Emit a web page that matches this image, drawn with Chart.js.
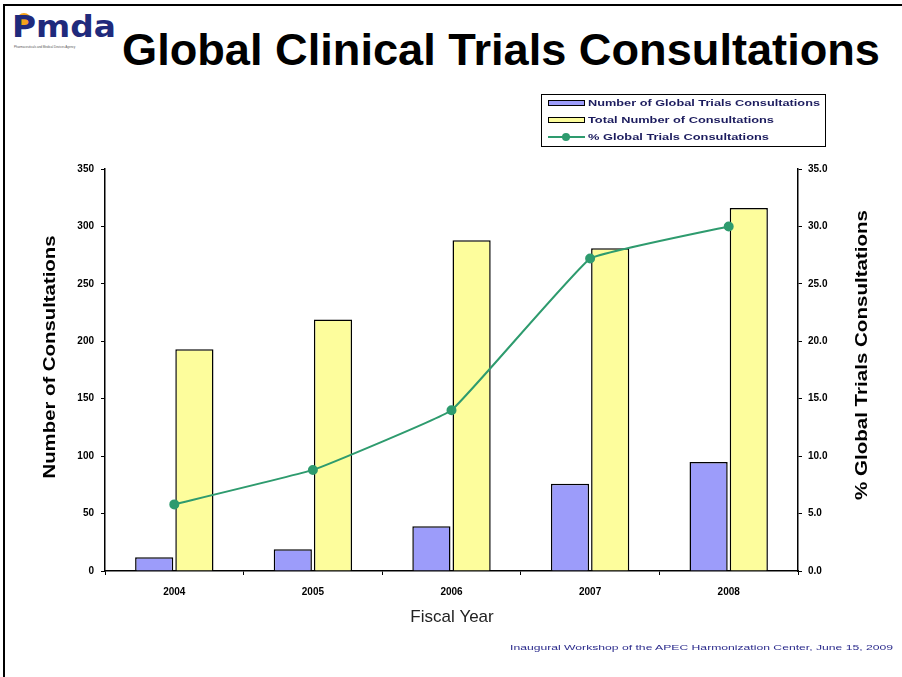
<!DOCTYPE html>
<html>
<head>
<meta charset="utf-8">
<script src="https://cdn.jsdelivr.net/npm/chart.js@4/dist/chart.umd.min.js"></script>
<style>
  html, body { margin:0; padding:0; background:#fff; }
  body { width:902px; height:677px; position:relative; overflow:hidden; font-family:"Liberation Sans", Arial, sans-serif; }
  #frameTop { position:absolute; left:3px; top:4px; width:899px; height:2px; background:#000; }
  #frameLeft { position:absolute; left:3px; top:4px; width:2px; height:673px; background:#000; }
  #title { position:absolute; left:122px; top:24px; font-weight:bold; font-size:44px; color:#000; white-space:nowrap; transform-origin:0 0; line-height:52px; }
  #logo { position:absolute; left:10px; top:8px; width:110px; height:44px; }
  #logoText { position:absolute; left:2px; top:0px; font-family:"DejaVu Sans", sans-serif; font-weight:bold; font-size:31px; color:#1f2a7c; line-height:36px; transform-origin:0 0; }
  #logoDot { position:absolute; left:7px; top:5px; width:14px; height:14px; border-radius:50%; background:#f5a21b; }
  #logoSub { position:absolute; left:4px; top:37px; font-size:3px; color:#555; white-space:nowrap; }
  #legend { position:absolute; left:541px; top:94px; width:285px; height:53px; border:1px solid #000; box-sizing:border-box; }
  .li { position:absolute; left:6px; height:12px; font-family:Arial, "Liberation Sans", sans-serif; font-weight:bold; font-size:9px; color:#1c1c5e; white-space:nowrap; line-height:12px; }
  .lt { display:inline-block; transform-origin:0 50%; }
  .sw { display:inline-block; width:37px; height:6px; border:1px solid #000; vertical-align:middle; margin-right:3px; box-sizing:border-box; position:relative; top:-1px; }
  .lw { display:inline-block; width:37px; height:8px; vertical-align:middle; margin-right:3px; position:relative; top:-1px; }
  .lw:before { content:""; position:absolute; left:0; right:0; top:3px; height:2px; background:#2e9b6e; }
  .lw:after { content:""; position:absolute; left:14px; top:0; width:8px; height:8px; border-radius:50%; background:#2e9b6e; }
  #footer { position:absolute; right:9px; top:643px; font-size:8px; color:#2b2b8c; white-space:nowrap; transform-origin:100% 50%; }
  #chartWrap { position:absolute; left:0; top:0; width:902px; height:677px; }
</style>
</head>
<body>
<div id="frameTop"></div>
<div id="frameLeft"></div>
<div id="logo"><div id="logoDot"></div><div id="logoText">Pmda</div><div id="logoSub">Pharmaceuticals and Medical Devices Agency</div></div>
<div id="title">Global Clinical Trials Consultations</div>
<div id="chartWrap"><canvas id="c" width="902" height="677"></canvas></div>
<div id="legend"></div>
<div id="footer">Inaugural Workshop of the APEC Harmonization Center, June 15, 2009</div>
<script>
// ---- data ----
const years = ['2004', '2005', '2006', '2007', '2008'];
const globalConsultations = [12, 19, 39, 76, 95];
const totalConsultations = [193, 219, 288, 281, 316];
const percentGlobal = [5.8, 8.8, 14.0, 27.2, 30.0];
const seriesLabels = ['Number of Global Trials Consultations', 'Total Number of Consultations', '% Global Trials Consultations'];
const leftTicks = [0, 50, 100, 150, 200, 250, 300, 350];
const rightTicks = [0, 5, 10, 15, 20, 25, 30, 35];

function fitWidth(el, target) {
  const w = el.getBoundingClientRect().width;
  el.style.transform = 'scaleX(' + (target / w) + ')';
}
fitWidth(document.getElementById('title'), 758);
fitWidth(document.getElementById('logoText'), 104);
fitWidth(document.getElementById('footer'), 383);

function drawFitted(ctx, text, x, y, target) {
  const w = ctx.measureText(text).width;
  ctx.save(); ctx.translate(x, y); ctx.scale(target / w, 1);
  ctx.fillText(text, 0, 0); ctx.restore();
}

const titlesPlugin = {
  id: 'titles',
  afterDraw(chart) {
    const ctx = chart.ctx;
    ctx.save();
    ctx.fillStyle = '#000';
    ctx.textAlign = 'center';
    ctx.textBaseline = 'middle';
    ctx.font = 'bold 17px "Liberation Sans", Arial, sans-serif';
    ctx.save(); ctx.translate(50, 357); ctx.rotate(-Math.PI/2);
    drawFitted(ctx, 'Number of Consultations', 0, 0, 243); ctx.restore();
    ctx.save(); ctx.translate(862, 355); ctx.rotate(-Math.PI/2);
    drawFitted(ctx, '% Global Trials Consultations', 0, 0, 290); ctx.restore();
    ctx.font = '17px "Liberation Sans", Arial, sans-serif';
    ctx.fillStyle = '#222';
    ctx.fillText('Fiscal Year', 452, 617);
    ctx.restore();
  }
};

const tickFont = { family: '"Liberation Sans", Arial, sans-serif', size: 10, weight: 'bold' };

const chart = new Chart(document.getElementById('c'), {
  type: 'bar',
  data: {
    labels: years,
    datasets: [
      { type: 'line', label: seriesLabels[2], data: percentGlobal, yAxisID: 'y1', order: 0,
        borderColor: '#2e9b6e', backgroundColor: '#2e9b6e', borderWidth: 2,
        pointRadius: 4, pointHoverRadius: 4, pointBackgroundColor: '#2e9b6e', pointBorderColor: '#2e9b6e',
        tension: 0.08, fill: false },
      { label: seriesLabels[0], data: globalConsultations, yAxisID: 'y', order: 1,
        backgroundColor: '#9c9cfa', borderColor: '#000', borderWidth: 1.5,
        categoryPercentage: 0.58, barPercentage: 0.95 },
      { label: seriesLabels[1], data: totalConsultations, yAxisID: 'y', order: 1,
        backgroundColor: '#fdfd9c', borderColor: '#000', borderWidth: 1.5,
        categoryPercentage: 0.58, barPercentage: 0.95 }
    ]
  },
  options: {
    responsive: false,
    animation: false,
    events: [],
    layout: { padding: { top: 169, left: 0, right: 0, bottom: 0 } },
    plugins: { legend: { display: false }, tooltip: { enabled: false } },
    scales: {
      x: {
        grid: { display: true, drawOnChartArea: false, drawTicks: true, tickLength: 4, color: '#000', offset: true },
        border: { display: true, color: '#000', width: 1.5 },
        ticks: { color: '#000', font: tickFont, padding: 11, maxRotation: 0 },
        afterFit(s) { s.height = 106; }
      },
      y: {
        position: 'left', min: 0, max: 350,
        afterBuildTicks(s) { s.ticks = leftTicks.map(v => ({ value: v })); },
        grid: { display: true, drawOnChartArea: false, drawTicks: true, tickLength: 4, color: '#000' },
        border: { display: true, color: '#000', width: 1.5 },
        ticks: { color: '#000', font: tickFont, padding: 7, callback: v => String(v) },
        afterFit(s) { s.width = 105; }
      },
      y1: {
        position: 'right', min: 0, max: 35,
        afterBuildTicks(s) { s.ticks = rightTicks.map(v => ({ value: v })); },
        grid: { display: true, drawOnChartArea: false, drawTicks: true, tickLength: 4, color: '#000' },
        border: { display: true, color: '#000', width: 1.5 },
        ticks: { color: '#000', font: tickFont, padding: 6, callback: v => Number(v).toFixed(1) },
        afterFit(s) { s.width = 104; }
      }
    }
  },
  plugins: [titlesPlugin]
});

// legend built from datasets
(function(){
  const lg = document.getElementById('legend');
  const ds = chart.data.datasets;
  const order = [1, 2, 0];
  const targetWidths = [232, 186, 181];
  order.forEach((idx, i) => {
    const d = ds[idx];
    const row = document.createElement('div');
    row.className = 'li';
    row.style.top = (2 + i * 17) + 'px';
    const sw = document.createElement('span');
    if (d.type === 'line') { sw.className = 'lw'; }
    else { sw.className = 'sw'; sw.style.background = d.backgroundColor; }
    row.appendChild(sw);
    const t = document.createElement('span');
    t.className = 'lt';
    t.textContent = d.label;
    row.appendChild(t);
    lg.appendChild(row);
    const w = t.getBoundingClientRect().width;
    t.style.transform = 'scaleX(' + (targetWidths[i] / w) + ')';
  });
})();
</script>
</body>
</html>
